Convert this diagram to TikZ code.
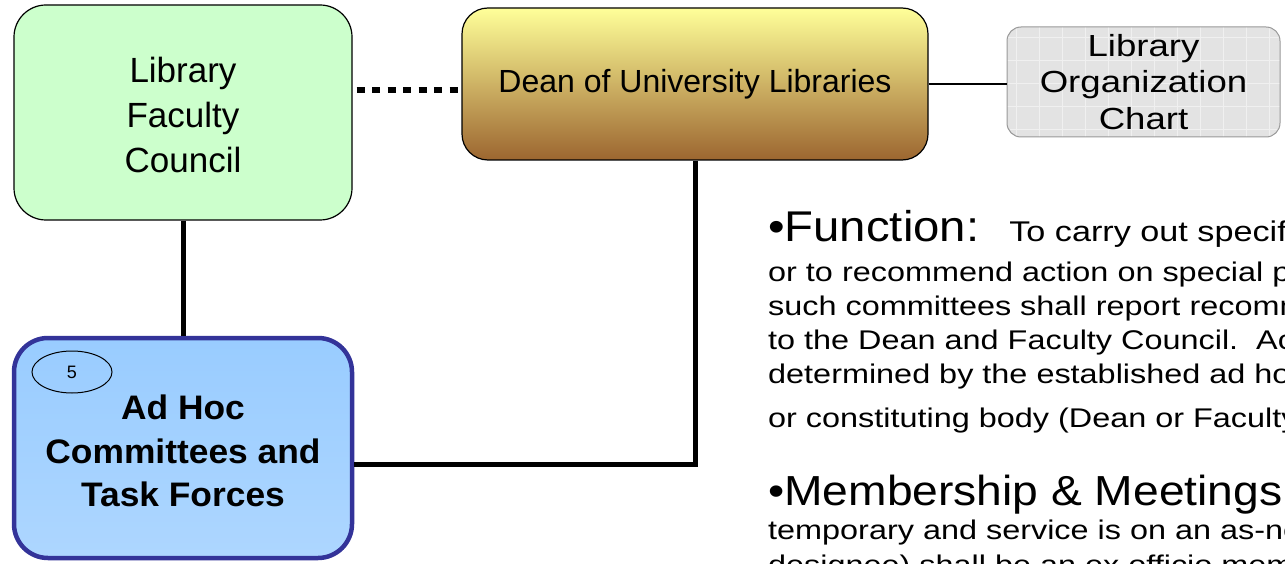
\documentclass[tikz,border=0pt]{standalone}
\usepackage{fontspec}
\setmainfont{Liberation Sans}
\newfontfamily\widefont[FakeStretch=1.2]{Liberation Sans}
\newfontfamily\headfont[FakeStretch=1.1]{Liberation Sans}
\newfontfamily\boldfont[FakeStretch=1.04]{Liberation Sans}
\usetikzlibrary{shapes.geometric}

\definecolor{councilgreen}{HTML}{CCFFCC}
\definecolor{deanyellow}{HTML}{FFFF99}
\definecolor{deanbrown}{HTML}{9C6630}
\definecolor{adhocblue}{HTML}{99CCFF}
\definecolor{adhocedge}{HTML}{333399}

\begin{document}
\begin{tikzpicture}[x=1pt,y=-1pt,
    unit/.style={draw, line width=1.2pt, align=center, inner sep=0pt},
    link/.style={line width=5pt}]
    \clip (0,0) rectangle (1285,564);

    % the three committee boxes
    \node[unit, rounded corners=32pt, minimum width=338pt, minimum height=215pt,
        top color=councilgreen, middle color=white, bottom color=councilgreen,
        label={[name=councilname, align=center, yshift=-2pt, font=\fontsize{35}{45}\selectfont]center:Library\\Faculty\\ Council}]
        (council) at (183,112.5) {};
    \node[unit, rounded corners=26pt, minimum width=466pt, minimum height=152pt,
        top color=deanyellow, bottom color=deanbrown, font=\fontsize{32}{36}\selectfont]
        (dean) at (695,84) {Dean of University Libraries};
    \node[unit, draw=gray!80, line width=1pt, rounded corners=14pt, minimum width=273pt,
        minimum height=110pt, fill=gray!22, font=\widefont\fontsize{30.5}{36.5}\selectfont,
        path picture={\draw[white!88!gray, line width=0.6pt, step=23pt]
            (path picture bounding box.south west) grid (path picture bounding box.north east);}]
        (chart) at (1143.5,82) {Library\\Organization\\Chart};
    \node[unit, draw=adhocedge, line width=4.5pt, rounded corners=34pt, minimum width=338pt,
        minimum height=220pt, top color=adhocblue, middle color=white, bottom color=adhocblue!80,
        label={[name=adhocname, align=center, yshift=-3pt, font=\boldfont\fontsize{34}{43.5}\selectfont\bfseries]center:Ad Hoc\\Committees and\\Task Forces}]
        (adhoc) at (183,448) {};
    \node[ellipse, draw, line width=1pt, minimum width=80pt, minimum height=42pt, inner sep=0pt,
        font=\fontsize{18}{18}\selectfont]
        (num) at (72,372) {5};

    % connectors
    \draw[line width=6pt, dash pattern=on 8pt off 7.5pt, dash phase=-4pt]
        (council.east |- 0,90) -- (dean.west |- 0,90);
    \draw[line width=1.2pt] (dean.east) -- (dean.east -| chart.west);
    \draw[link] (council.south) -- (adhoc.north);
    \coordinate (bend) at (695,464);
    \draw[link] (dean.south) -- (bend) -- (bend -| adhoc.east);

    % description text (base anchor sits on the last line)
    \node[anchor=base west, inner sep=0pt] (func) at (768,241)
        {\headfont\fontsize{43}{43}\selectfont •Function:\hspace{30pt}\widefont\fontsize{28.5}{28}\selectfont To carry out specific};
    \node[anchor=base west, align=left, inner sep=0pt,
        font=\widefont\fontsize{27}{34}\selectfont] (funcbody) at (768,427)
        {or to recommend action on special p\\
        such committees shall report recomm\\
        to the Dean and Faculty Council.\ \ Ac\\
        determined by the established ad ho\\[10pt]
        or constituting body (Dean or Faculty};
    \node[anchor=base west, inner sep=0pt, font=\headfont\fontsize{42}{42}\selectfont]
        (member) at (768,505) {•Membership \& Meetings};
    \node[anchor=base west, align=left, inner sep=0pt,
        font=\widefont\fontsize{27}{35}\selectfont] (memberbody) at (768,574)
        {temporary and service is on an as-ne\\
        designee) shall be an ex officio mem};
\end{tikzpicture}
\end{document}
